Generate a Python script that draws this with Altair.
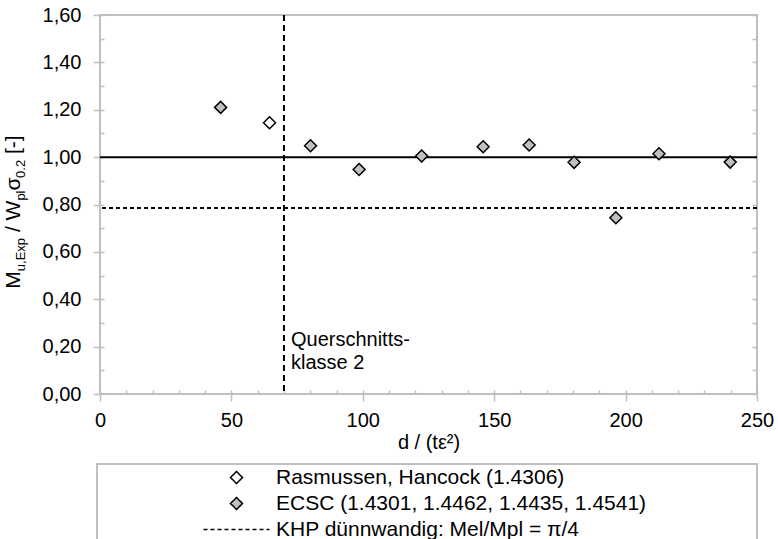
import altair as alt
import pandas as pd

# ---------------- data ----------------
ras_x = [64.5]
ras_y = [1.145]
ecsc_x = [45.9, 80.1, 98.6, 122.4, 145.8, 163.3, 180.4, 196.3, 212.7, 239.8]
ecsc_y = [1.210, 1.048, 0.948, 1.005, 1.044, 1.051, 0.978, 0.744, 1.014, 0.979]
series_names = [
    "Rasmussen, Hancock (1.4306)",
    "ECSC (1.4301, 1.4462, 1.4435, 1.4541)",
    "KHP dünnwandig: Mel/Mpl = π/4",
]
khp_value = [0.785]
unity_value = [1.0]
class_limit = [70.0]
class_label = ["Querschnitts-", "klasse 2"]
class_label_y = [0.272]
y_tick_values = [0.0, 0.2, 0.4, 0.6, 0.8, 1.0, 1.2, 1.4, 1.6]
y_minor_values = [i / 10 for i in range(17)]
x_tick_values = [0, 50, 100, 150, 200, 250]
x_minor_values = list(range(0, 251, 10))
x_title = "d / (tε²)"
# y title pieces: (text, is_subscript, leading space)
y_title_parts = [("M", False, False), ("u,Exp", True, False), ("/ W", False, True),
                 ("pl", True, False), ("σ", False, False), ("0.2", True, False),
                 ("[-]", False, True)]

# ---------------- style ----------------
FONT = "Liberation Sans"
GRAY = "#bfbfbf"
W, H = 657, 379

xs = alt.Scale(domain=[0, 250], nice=False, zero=False)
ys = alt.Scale(domain=[0, 1.6], nice=False, zero=False)

axisA = alt.Axis(orient="left", values=y_tick_values, title="", domain=False, grid=False,
                 tickSize=7, tickColor=GRAY, tickWidth=1.5, labelFont=FONT, labelFontSize=20,
                 labelColor="black", labelPadding=12, labelFlush=False, labelOverlap=False,
                 labelExpr="replace(format(datum.value, '.2f'), '.', ',')")
axisB = alt.Axis(orient="left", values=y_minor_values, title="", domain=False, grid=False,
                 labels=False, tickSize={"expr": "-4"}, tickColor=GRAY, tickWidth=1.5)
axisC = alt.Axis(orient="right", values=y_minor_values, title="", domain=False, grid=False,
                 labels=False, tickSize={"expr": "-5"}, tickColor=GRAY, tickWidth=1.5)
axisD = alt.Axis(orient="bottom", values=x_tick_values, title=x_title, domain=False, grid=False,
                 tickSize=7, tickColor=GRAY, tickWidth=1.5, labelFont=FONT, labelFontSize=20,
                 labelColor="black", labelPadding=9, labelFlush=False, labelOverlap=False,
                 format="d", titleFont=FONT, titleFontSize=20, titleFontWeight="normal",
                 titleColor="black", titlePadding=2)
axisE = alt.Axis(orient="bottom", values=x_minor_values, title="", domain=False, grid=False,
                 labels=False, tickSize={"expr": "-4"}, tickColor=GRAY, tickWidth=1.5)

pts = pd.DataFrame({
    "x": ras_x + ecsc_x,
    "y": ras_y + ecsc_y,
    "series": [series_names[0]] * len(ras_x) + [series_names[1]] * len(ecsc_x),
})

leg = alt.Legend(title=None, symbolStrokeColor="black", symbolStrokeWidth=1.5)

box = alt.Chart(pd.DataFrame({"a": [0]})).mark_rect(
    fill="white", stroke=GRAY, strokeWidth=2
).encode(x=alt.value(-3), x2=alt.value(W), y=alt.value(449), y2=alt.value(600))

unity = alt.Chart(pd.DataFrame({"v": unity_value})).mark_rule(
    color="black", strokeWidth=2
).encode(y=alt.Y("v:Q", scale=ys, axis=axisB))

khp = alt.Chart(pd.DataFrame({"v": khp_value, "series": [series_names[2]]})).mark_rule(
    strokeWidth=2
).encode(
    y=alt.Y("v:Q", scale=ys, axis=axisC),
    strokeDash=alt.StrokeDash("series:N", scale=alt.Scale(domain=series_names,
                              range=[[1, 0], [1, 0], [4, 3]]), legend=leg),
    stroke=alt.Stroke("series:N", scale=alt.Scale(domain=series_names,
                      range=["black", "black", "black"]), legend=leg),
)

vline = alt.Chart(pd.DataFrame({"v": class_limit})).mark_rule(
    color="black", strokeWidth=2, strokeDash=[6, 4]
).encode(x=alt.X("v:Q", scale=xs, axis=axisE))

points = alt.Chart(pts).mark_point(
    filled=True, strokeWidth=1.5, size=144, opacity=1
).encode(
    x=alt.X("x:Q", scale=xs, axis=axisD),
    y=alt.Y("y:Q", scale=ys, axis=axisA),
    shape=alt.Shape("series:N", scale=alt.Scale(domain=series_names,
                    range=["diamond", "diamond", "M-5.5,0L5.5,0"]), legend=leg),
    fill=alt.Fill("series:N", scale=alt.Scale(domain=series_names,
                  range=["white", "#c0c0c0", "transparent"]), legend=leg),
    stroke=alt.Stroke("series:N", scale=alt.Scale(domain=series_names,
                      range=["black", "black", "black"]), legend=leg),
)

ann = alt.Chart(pd.DataFrame({"x": class_limit, "y": class_label_y,
                              "t": ["\n".join(class_label)]})).mark_text(
    align="left", baseline="top", dx=7, font=FONT, fontSize=20, lineHeight=23,
    lineBreak="\n", color="black"
).encode(x=alt.X("x:Q", scale=xs, axis=None), y=alt.Y("y:Q", scale=ys, axis=None), text="t:N")

# rotated y title composed of main text and subscripts
CW = {'M': .833, 'u': .556, ',': .278, 'E': .667, 'x': .5, 'p': .556, ' ': .278, '/': .278,
      'W': .944, 'l': .222, 'σ': .6, '0': .556, '.': .278, '2': .556, '[': .278, '-': .333, ']': .278}
MAIN_FS, SUB_FS = 21, 13
SPACE = 0.278 * MAIN_FS
lengths = []
for t, s, lead in y_title_parts:
    lengths.append(sum(CW.get(c, .55) for c in t) * (SUB_FS if s else MAIN_FS)
                   + (SPACE if lead else 0))
total = sum(lengths)
center_y = 197
pos = center_y + total / 2
title_layers = []
for (t, s, lead), ln in zip(y_title_parts, lengths):
    start = pos - (SPACE if lead else 0)
    title_layers.append(
        alt.Chart(pd.DataFrame({"t": [t]})).mark_text(
            angle=270, align="left", baseline="alphabetic", font=FONT,
            fontSize=SUB_FS if s else MAIN_FS, color="black"
        ).encode(x=alt.value(-75 if s else -80), y=alt.value(start), text="t:N")
    )
    pos -= ln

chart = alt.layer(box, unity, khp, vline, points, ann, *title_layers).resolve_axis(
    x="independent", y="independent"
).properties(
    width=W, height=H, autosize="none",
    padding={"left": 100, "top": 15, "right": 21, "bottom": 145},
).configure_view(stroke=GRAY, strokeWidth=2).configure_legend(
    orient="none", legendX=126, legendY=452, labelFont=FONT, labelFontSize=21,
    labelColor="black", labelOffset=29, labelLimit=0, rowPadding=4,
    symbolStrokeColor="black", symbolStrokeWidth=1.5, symbolSize=144, padding=0,
    titlePadding=0
)

chart.save("out.html", embed_options={"renderer": "svg", "actions": False})
